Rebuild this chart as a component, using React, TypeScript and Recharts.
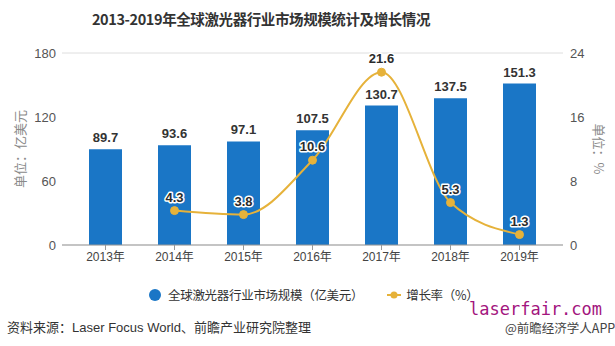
import { Bar, CartesianGrid, ComposedChart, LabelList, Line, XAxis, YAxis, Label } from 'recharts'

const years = ['2013年', '2014年', '2015年', '2016年', '2017年', '2018年', '2019年']
const marketSize = [89.7, 93.6, 97.1, 107.5, 130.7, 137.5, 151.3]
const growthRate = [null, 4.3, 3.8, 10.6, 21.6, 5.3, 1.3]
const leftTicks = [0, 60, 120, 180]
const rightTicks = [0, 8, 16, 24]

const data = years.map((year, i) => ({ year, size: marketSize[i], rate: growthRate[i] }))

const BLUE = '#1a76c6'
const GOLD = '#e6b23a'
const FONT = '"Liberation Sans", Arial, "Noto Sans CJK SC", sans-serif'
const CJK = '"Noto Sans CJK SC", "Liberation Sans", sans-serif'

function RateLabel(props: any) {
  const { x, y, value } = props
  if (value == null) return null
  return (
    <text
      x={x}
      y={y - 9}
      textAnchor="middle"
      fontFamily={FONT}
      fontSize={13}
      fontWeight="bold"
      fill="#2b2b2b"
      stroke="#fff"
      strokeWidth={3}
      strokeLinejoin="round"
      paintOrder="stroke"
    >
      {value}
    </text>
  )
}

function LeftTitle(props: any) {
  const { viewBox } = props
  const cx = viewBox.x + 25
  const cy = viewBox.y + viewBox.height / 2
  return (
    <text x={cx} y={cy} transform={`rotate(-90 ${cx} ${cy})`} textAnchor="middle" fontFamily={CJK} fontSize={13} fill="#8a8a8a">
      单位：亿美元
    </text>
  )
}

function RightTitle(props: any) {
  const { viewBox } = props
  const cx = viewBox.x + 31
  const cy = viewBox.y + viewBox.height / 2
  return (
    <text x={cx} y={cy} transform={`rotate(90 ${cx} ${cy})`} textAnchor="middle" fontFamily={CJK} fontSize={13} fill="#8a8a8a">
      单位：%
    </text>
  )
}

export default function App() {
  return (
    <div style={{ position: 'absolute', left: 0, top: 0, width: 615, height: 346, background: '#fff', fontFamily: CJK }}>
      <div
        style={{
          position: 'absolute',
          left: 0,
          width: 522,
          top: 8,
          textAlign: 'center',
          fontSize: 14.5,
          fontWeight: 'bold',
          color: '#333',
          letterSpacing: -0.4,
        }}
      >
        2013-2019年全球激光器行业市场规模统计及增长情况
      </div>

      <ComposedChart width={615} height={346} data={data} margin={{ top: 53, right: 0, left: 0, bottom: 71 }}>
        <CartesianGrid vertical={false} stroke="#dedede" />
        <XAxis
          dataKey="year"
          padding={{ left: 9, right: 9 }}
          height={30}
          tick={{ fill: '#444', fontSize: 12, fontFamily: FONT }}
          axisLine={{ stroke: '#999' }}
          tickLine={{ stroke: '#999' }}
          tickSize={5}
        />
        <YAxis
          yAxisId="left"
          width={62}
          domain={[0, 180]}
          ticks={leftTicks}
          axisLine={false}
          tickLine={false}
          tickSize={4}
          tick={{ fill: '#555', fontSize: 13, fontFamily: FONT }}
        >
          <Label content={<LeftTitle />} />
        </YAxis>
        <YAxis
          yAxisId="right"
          orientation="right"
          width={52}
          domain={[0, 24]}
          ticks={rightTicks}
          axisLine={false}
          tickLine={false}
          tickSize={5}
          tick={{ fill: '#555', fontSize: 13, fontFamily: FONT, textAnchor: 'start' }}
        >
          <Label content={<RightTitle />} />
        </YAxis>
        <Bar yAxisId="left" dataKey="size" fill={BLUE} barSize={33} isAnimationActive={false}>
          <LabelList
            dataKey="size"
            position="top"
            offset={7}
            style={{ fill: '#333', fontSize: 13, fontWeight: 'bold', fontFamily: FONT }}
          />
        </Bar>
        <Line
          yAxisId="right"
          dataKey="rate"
          type="monotone"
          stroke={GOLD}
          strokeWidth={2}
          dot={{ r: 4, fill: GOLD, stroke: GOLD, strokeWidth: 1 }}
          activeDot={false}
          connectNulls={false}
          isAnimationActive={false}
        >
          <LabelList dataKey="rate" content={<RateLabel />} />
        </Line>
      </ComposedChart>

      <div
        style={{
          position: 'absolute',
          top: 285,
          left: 149,
          display: 'flex',
          alignItems: 'center',
          fontSize: 12.5,
          color: '#333',
          whiteSpace: 'nowrap',
          letterSpacing: -0.3,
        }}
      >
        <span style={{ width: 12, height: 12, borderRadius: '50%', background: BLUE, display: 'inline-block', marginRight: 7 }} />
        <span>全球激光器行业市场规模（亿美元）</span>
        <svg width={14} height={10} style={{ marginLeft: 24, marginRight: 5 }}>
          <line x1={0} y1={5} x2={14} y2={5} stroke={GOLD} strokeWidth={2} />
          <circle cx={7} cy={5} r={3.5} fill={GOLD} />
        </svg>
        <span>增长率（%）</span>
      </div>

      <div style={{ position: 'absolute', top: 317, left: 7, fontSize: 13, color: '#333', whiteSpace: 'nowrap' }}>
        资料来源：<span style={{ fontFamily: FONT }}>Laser Focus World</span>、前瞻产业研究院整理
      </div>
      <div
        style={{
          position: 'absolute',
          top: 299,
          left: 469,
          fontSize: 17,
          color: '#a3157e',
          fontFamily: '"DejaVu Sans Mono", monospace',
          whiteSpace: 'nowrap',
        }}
      >
        laserfair.com
      </div>
      <div style={{ position: 'absolute', top: 318, left: 505, fontSize: 12.5, color: '#444', whiteSpace: 'nowrap' }}>
        @前瞻经济学人APP
      </div>
    </div>
  )
}
